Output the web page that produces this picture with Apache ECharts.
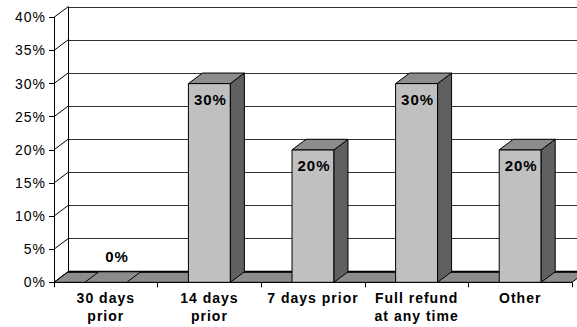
<!DOCTYPE html>
<html>
<head>
<meta charset="utf-8">
<script src="https://cdn.jsdelivr.net/npm/echarts@6/dist/echarts.min.js"></script>
<style>
  html, body { margin: 0; padding: 0; background: #fff; }
  #chart { width: 577px; height: 327px; }
  #chart text { letter-spacing: 1px; }
</style>
</head>
<body>
<div id="chart"></div>
<script>
// Refund policy shares (percent of respondents)
const categories = ['30 days\nprior', '14 days\nprior', '7 days prior', 'Full refund\nat any time', 'Other'];
const shares = [0, 30, 20, 30, 20];
const yTicks = [0, 5, 10, 15, 20, 25, 30, 35, 40];

// 3D depth offset of the back wall relative to the front plane
const DX = 14, DY = 10.5;
const PLOT = { left: 54, top: 17.3, width: 518, height: 265 };
const FONT = '"Liberation Sans", Arial, sans-serif';

const FRONT_FILL = '#c0c0c0';
const TOP_FILL = '#8c8c8c';
const SIDE_FILL = '#606060';
const FLOOR_FILL = '#8c8c8c';

const chart = echarts.init(document.getElementById('chart'), null, { renderer: 'svg' });

function renderFloor(params, api) {
  const cs = params.coordSys;
  const yb = cs.y + cs.height;
  const x0 = cs.x, x1 = cs.x + cs.width;
  return {
    type: 'group',
    children: [
      {
        type: 'polygon',
        shape: { points: [[x0, yb], [x1, yb], [x1 + DX, yb - DY], [x0 + DX, yb - DY]] },
        style: { fill: FLOOR_FILL, stroke: '#000', lineWidth: 1 }
      },
      {
        type: 'line',
        shape: { x1: x0 + DX, y1: yb - DY, x2: x1 + DX, y2: yb - DY },
        style: { stroke: '#000', lineWidth: 2 }
      }
    ]
  };
}

function renderWall(params, api) {
  const cs = params.coordSys;
  const y = api.coord([0, api.value(1)])[1];
  return {
    type: 'line',
    shape: { x1: cs.x, y1: y, x2: cs.x + DX, y2: y - DY },
    style: { stroke: '#000', lineWidth: 1 }
  };
}

function renderBar(params, api) {
  const idx = api.value(0);
  const v = api.value(1);
  const top = api.coord([idx, v]);
  const base = api.coord([idx, 0]);
  const band = api.size([1, 0])[0];
  const w = band * 0.405;
  const cx = top[0];
  const x0 = cx - w / 2, x1 = cx + w / 2;
  const yt = top[1], yb = base[1];
  const children = [];
  if (yb - yt > 0.5) {
    children.push({
      type: 'rect',
      shape: { x: x0, y: yt, width: w, height: yb - yt },
      style: { fill: FRONT_FILL, stroke: '#000', lineWidth: 1 }
    });
    children.push({
      type: 'polygon',
      shape: { points: [[x1, yt], [x1 + DX, yt - DY], [x1 + DX, yb - DY], [x1, yb]] },
      style: { fill: SIDE_FILL, stroke: '#000', lineWidth: 1 }
    });
  }
  children.push({
    type: 'polygon',
    shape: { points: [[x0, yt], [x1, yt], [x1 + DX, yt - DY], [x0 + DX, yt - DY]] },
    style: { fill: TOP_FILL, stroke: '#000', lineWidth: 1 }
  });
  const zero = v === 0;
  children.push({
    type: 'text',
    style: {
      text: v + '%',
      x: zero ? cx + DX * 0.8 : cx + 1,
      y: zero ? yb - 26 : yt + 16,
      align: 'center',
      verticalAlign: 'middle',
      fontSize: 15,
      fontWeight: 'bold',
      fontFamily: FONT,
      fill: '#000'
    }
  });
  return { type: 'group', children };
}

const option = {
  animation: false,
  backgroundColor: '#fff',
  textStyle: { fontFamily: FONT },
  grid: [
    // back wall
    { left: PLOT.left + DX, top: PLOT.top - DY, width: PLOT.width, height: PLOT.height, outerBoundsMode: 'none' },
    // front plane
    { left: PLOT.left, top: PLOT.top, width: PLOT.width, height: PLOT.height, outerBoundsMode: 'none' }
  ],
  xAxis: [
    { gridIndex: 0, type: 'category', data: categories, show: false },
    {
      gridIndex: 1, type: 'category', data: categories,
      axisLine: { show: true, lineStyle: { color: '#000', width: 1 } },
      axisTick: { show: true, interval: 0, length: 5, lineStyle: { color: '#000' } },
      axisLabel: {
        interval: 0, margin: 7, color: '#000', fontSize: 14, fontWeight: 'bold',
        lineHeight: 18, fontFamily: FONT
      },
      splitLine: { show: false }
    }
  ],
  yAxis: [
    {
      gridIndex: 0, type: 'value', min: 0, max: 40, interval: 5,
      axisLine: { show: true, lineStyle: { color: '#000', width: 1 } },
      axisTick: { show: false },
      axisLabel: { show: false },
      splitLine: { show: true, lineStyle: { color: '#333', width: 1 } }
    },
    {
      gridIndex: 1, type: 'value', min: 0, max: 40, interval: 5,
      axisLine: { show: true, lineStyle: { color: '#000', width: 1 } },
      axisTick: { show: true, length: 5, lineStyle: { color: '#000' } },
      axisLabel: { formatter: '{value}%', margin: 8, color: '#000', fontSize: 14, fontFamily: FONT },
      splitLine: { show: false }
    }
  ],
  series: [
    {
      type: 'custom', xAxisIndex: 1, yAxisIndex: 1, z: 2,
      data: [[0, 0]], renderItem: renderFloor, silent: true
    },
    {
      type: 'custom', xAxisIndex: 1, yAxisIndex: 1, z: 2,
      data: yTicks.map(t => [0, t]), renderItem: renderWall, silent: true
    },
    {
      type: 'custom', xAxisIndex: 1, yAxisIndex: 1, z: 3,
      data: shares.map((s, i) => [i, s]), renderItem: renderBar,
      encode: { x: 0, y: 1 }
    }
  ]
};

chart.setOption(option);
</script>
</body>
</html>
